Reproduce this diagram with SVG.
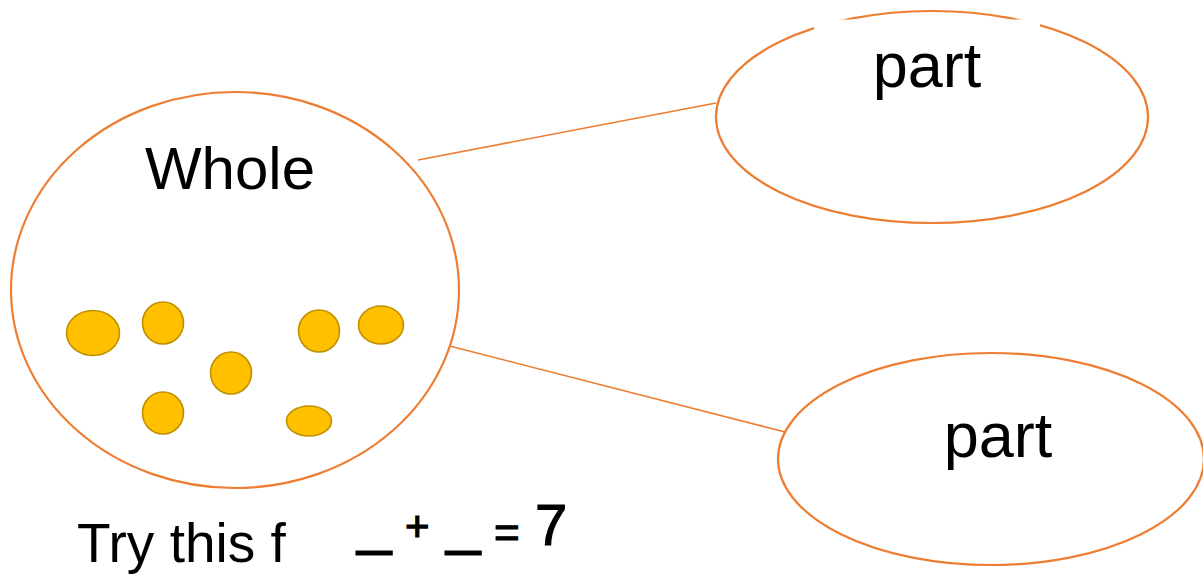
<svg xmlns="http://www.w3.org/2000/svg" width="1203" height="577" viewBox="0 0 1203 577">
<style>
.node{fill:#fff;stroke:#ED7D31;stroke-width:2.2}
.conn{stroke:#ED7D31;stroke-width:1.6;fill:none}
.dot{fill:#FFC000;stroke:#BF9000;stroke-width:1.6}
.lbl{font-family:"Liberation Sans",Arial,sans-serif;fill:#000}
.eq{font-family:"Liberation Sans",Arial,sans-serif;fill:#000;stroke:#000;stroke-width:1.2}
</style>
<rect width="1203" height="577" fill="#fff"/>
<g id="connectors">
<line class="conn" x1="418" y1="160" x2="716" y2="103"/>
<line class="conn" x1="434" y1="342" x2="793" y2="434"/>
</g>
<g id="whole">
<ellipse class="node" cx="235" cy="290" rx="224" ry="198"/>
<text class="lbl" x="230" y="189" font-size="60" text-anchor="middle">Whole</text>
<ellipse class="dot" cx="93" cy="333" rx="26.5" ry="22.5"/>
<ellipse class="dot" cx="163" cy="323" rx="20.5" ry="21"/>
<ellipse class="dot" cx="231" cy="373" rx="20.5" ry="21"/>
<ellipse class="dot" cx="163" cy="413" rx="20.5" ry="21"/>
<ellipse class="dot" cx="319" cy="331" rx="20.5" ry="21"/>
<ellipse class="dot" cx="381" cy="325" rx="22.5" ry="19"/>
<ellipse class="dot" cx="309" cy="421" rx="22.5" ry="15"/>
</g>
<g id="part-top">
<ellipse class="node" cx="932" cy="117" rx="216" ry="106"/>
<rect x="814" y="19.5" width="226" height="30" fill="#fff"/>
<text class="lbl" x="927" y="87" font-size="63" text-anchor="middle">part</text>
</g>
<g id="part-bottom">
<ellipse class="node" cx="991" cy="459" rx="213" ry="106"/>
<text class="lbl" x="998" y="457" font-size="63" text-anchor="middle">part</text>
</g>
<g id="prompt">
<text class="lbl" x="77" y="562" font-size="55">Try this f</text>
<text class="eq" x="357" y="543" font-size="62">_</text>
<text class="eq" x="405" y="541" font-size="42">+</text>
<text class="eq" x="446" y="543" font-size="62">_</text>
<text class="eq" x="494" y="548" font-size="44">=</text>
<text class="eq" x="535" y="545" font-size="58">7</text>
</g>
</svg>
